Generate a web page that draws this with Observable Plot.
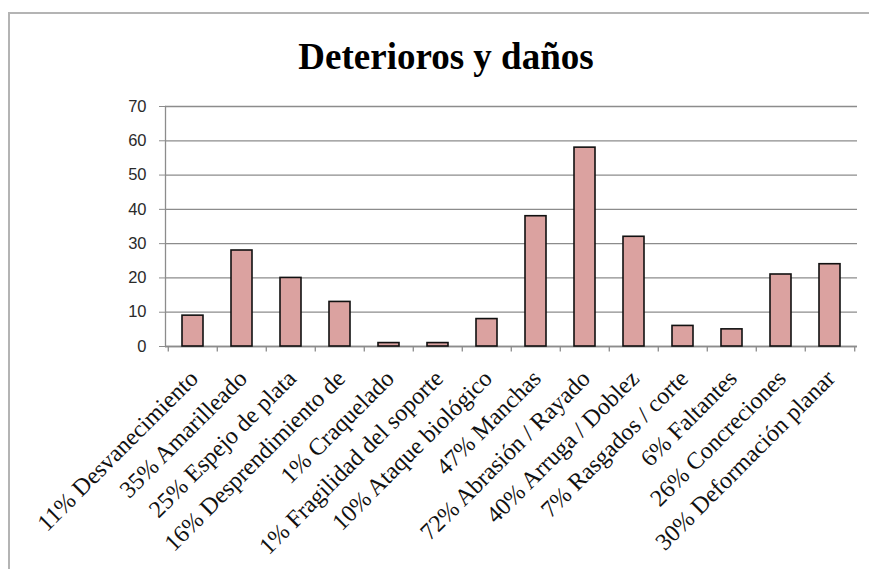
<!DOCTYPE html>
<html><head><meta charset="utf-8">
<script src="https://cdn.jsdelivr.net/npm/d3@7"></script>
<script src="https://cdn.jsdelivr.net/npm/@observablehq/plot@0.6"></script>
<style>
body{margin:0;background:#fff;}
#wrap{position:relative;width:869px;height:569px;overflow:hidden;background:#fff;}
#frame{position:absolute;left:8px;top:12px;width:900px;height:600px;border-top:2px solid #b4b4b4;border-left:2px solid #b4b4b4;}
#title{position:absolute;left:0;top:39px;width:892px;text-align:center;font:bold 37px "Liberation Serif";line-height:36px;color:#000;}
#chart{position:absolute;left:0;top:90px;}
</style></head>
<body>
<div id="wrap">
  <div id="frame"></div>
  <div id="title">Deterioros y daños</div>
  <div id="chart"></div>
</div>
<script>
const categories = [
  "11% Desvanecimiento",
  "35% Amarilleado",
  "25% Espejo de plata",
  "16% Desprendimiento de",
  "1% Craquelado",
  "1% Fragilidad del soporte",
  "10% Ataque biológico",
  "47% Manchas",
  "72% Abrasión / Rayado",
  "40% Arruga / Doblez",
  "7% Rasgados / corte",
  "6% Faltantes",
  "26% Concreciones",
  "30% Deformación planar"
];
const values = [9, 28, 20, 13, 1, 1, 8, 38, 58, 32, 6, 5, 21, 24];
const yTicks = [0, 10, 20, 30, 40, 50, 60, 70];

const data = categories.map((c, i) => ({label: c, value: values[i]}));

const W = 869, H = 479, ML = 165, MR = 12;
const step = (W - ML - MR) / categories.length;

const chart = Plot.plot({
  width: W,
  height: H,
  marginTop: 16,
  marginBottom: 223,
  marginLeft: ML,
  marginRight: MR,
  x: {domain: categories, paddingInner: 0.58, paddingOuter: 0.29, label: null},
  y: {domain: [0, 70], label: null},
  marks: [
    Plot.gridY(yTicks, {stroke: "#8c8c8c", strokeOpacity: 1, strokeWidth: 1.3}),
    Plot.ruleY([0], {stroke: "#8c8c8c", strokeWidth: 1.3}),
    Plot.frame({anchor: "left", stroke: "#8c8c8c", strokeWidth: 1.3}),
    Plot.ruleX(categories, {x: d => d, y1: 0, y2: -1.6, dx: -step / 2, stroke: "#8c8c8c", strokeWidth: 1.3}),
    Plot.ruleX([categories[categories.length - 1]], {x: d => d, y1: 0, y2: -1.6, dx: step / 2, stroke: "#8c8c8c", strokeWidth: 1.3}),
    Plot.barY(data, {x: "label", y: "value", fill: "#dba2a0", stroke: "#111", strokeWidth: 1.6}),
    Plot.axisY(yTicks, {tickSize: 6, tickPadding: 13, fontSize: 16.5, fontFamily: "Liberation Sans", stroke: "#8c8c8c", fill: "#2a2a2a"}),
    Plot.axisX({tickSize: 0, tickRotate: -45, tickPadding: 28, dx: 1, fontSize: 24, fontFamily: "Liberation Serif", fill: "#111"})
  ]
});
document.getElementById("chart").appendChild(chart);
</script>
</body></html>
